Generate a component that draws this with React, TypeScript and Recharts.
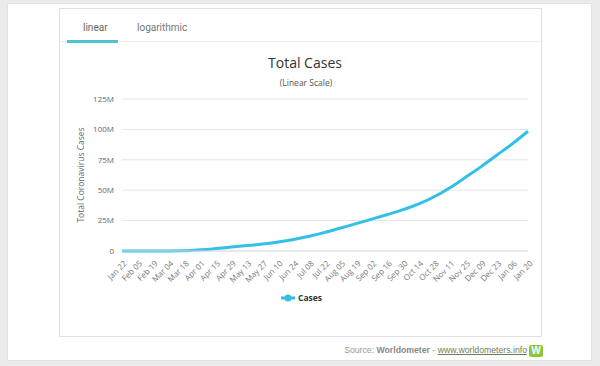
import React from 'react';
import { LineChart, Line, XAxis, YAxis, CartesianGrid } from 'recharts';

const dateLabels = [
  'Jan 22', 'Feb 05', 'Feb 19', 'Mar 04', 'Mar 18', 'Apr 01', 'Apr 15', 'Apr 29', 'May 13',
  'May 27', 'Jun 10', 'Jun 24', 'Jul 08', 'Jul 22', 'Aug 05', 'Aug 19', 'Sep 02', 'Sep 16',
  'Sep 30', 'Oct 14', 'Oct 28', 'Nov 11', 'Nov 25', 'Dec 09', 'Dec 23', 'Jan 06', 'Jan 20',
];

const caseValues = [
  580, 28276, 75204, 95124, 218000, 935000, 2000000, 3220000, 4430000,
  5800000, 7420000, 9500000, 12100000, 15300000, 18900000, 22500000, 26200000, 30000000,
  34000000, 38700000, 44600000, 52000000, 60600000, 69400000, 78800000, 88200000, 98500000,
];

const yTicks = [0, 25000000, 50000000, 75000000, 100000000, 125000000];

const data = dateLabels.map((d, i) => ({ date: d, cases: caseValues[i] }));

const LINE_COLOR = '#33bfe8';

const XTick = (props: any) => {
  const { x, y, payload } = props;
  return (
    <g transform={`translate(${x + 3},${y + 3})`}>
      <text x={0} y={0} dy={3} textAnchor="end" transform="rotate(-45)" fontSize={8} fill="#777"
        fontFamily="'Open Sans', sans-serif">
        {payload.value}
      </text>
    </g>
  );
};

export default function App() {
  return (
    <div style={{ position: 'fixed', left: 0, top: 0, width: 600, height: 366, background: '#ebebeb', overflow: 'hidden' }}>
      <div style={{ position: 'absolute', left: 7, top: 3, width: 585, height: 358, background: '#fff', border: '1px solid #e2e2e2', boxSizing: 'border-box' }} />
      <div style={{ position: 'absolute', left: 59, top: 8, width: 483, height: 329, background: '#fff', border: '1px solid #e0e0e0', boxSizing: 'border-box' }} />
      {/* tabs */}
      <div style={{ position: 'absolute', left: 60, top: 41, width: 481, height: 1, background: '#eeeeee' }} />
      <div style={{ position: 'absolute', left: 67, top: 40, width: 51, height: 3, background: '#4cc3d3' }} />
      <div style={{ position: 'absolute', left: 83, top: 22, fontFamily: 'Roboto, sans-serif', fontSize: 10, color: '#666' }}>linear</div>
      <div style={{ position: 'absolute', left: 137, top: 22, fontFamily: 'Roboto, sans-serif', fontSize: 10, color: '#777' }}>logarithmic</div>
      {/* titles */}
      <div style={{ position: 'absolute', left: 0, width: 610, top: 53, textAlign: 'center', fontFamily: "'Open Sans', sans-serif", fontSize: 14, color: '#333' }}>Total Cases</div>
      <div style={{ position: 'absolute', left: 0, width: 612, top: 77, textAlign: 'center', fontFamily: "'Open Sans', sans-serif", fontSize: 8.5, color: '#555' }}>(Linear Scale)</div>
      <div style={{ position: 'absolute', left: 0, top: 0 }}>
        <LineChart width={600} height={366} data={data} margin={{ top: 99, right: 72, bottom: 75, left: 62 }}>
          <CartesianGrid vertical={false} stroke="#e6e6e6" />
          <XAxis dataKey="date" interval={0} tick={<XTick />} tickLine={false} axisLine={{ stroke: '#dcdcdc' }} height={40} />
          <YAxis domain={[0, 125000000]} ticks={yTicks} width={60} tickLine={false} axisLine={false}
            tickFormatter={(v: number) => (v === 0 ? '0' : `${v / 1000000}M`)}
            tick={{ fontSize: 8, fill: '#666', fontFamily: "'Open Sans', sans-serif" }} />
          <Line type="monotone" dataKey="cases" stroke={LINE_COLOR} strokeWidth={3} dot={false} isAnimationActive={false} />
        </LineChart>
      </div>
      {/* y axis title */}
      <div style={{ position: 'absolute', left: 80, top: 175, width: 0, height: 0 }}>
        <div style={{ position: 'absolute', transform: 'translate(-50%, -50%) rotate(-90deg)', whiteSpace: 'nowrap', fontFamily: "'Open Sans', sans-serif", fontSize: 8.5, color: '#666' }}>Total Coronavirus Cases</div>
      </div>
      {/* legend */}
      <div style={{ position: 'absolute', left: 281, top: 292, display: 'flex', alignItems: 'center', fontFamily: "'Open Sans', sans-serif" }}>
        <svg width={14} height={10} style={{ display: 'block' }}>
          <line x1={0} y1={5} x2={14} y2={5} stroke={LINE_COLOR} strokeWidth={3} />
          <circle cx={7} cy={5} r={3.5} fill={LINE_COLOR} />
        </svg>
        <span style={{ marginLeft: 3, fontSize: 8.5, fontWeight: 700, color: '#333' }}>Cases</span>
      </div>
      {/* source */}
      <div style={{ position: 'absolute', right: 73, top: 345, fontFamily: "'Liberation Sans', Arial, sans-serif", fontSize: 8.7, color: '#999', whiteSpace: 'nowrap' }}>
        Source: <span style={{ fontWeight: 700, color: '#888' }}>Worldometer</span> - <span style={{ color: '#6b7f5a', textDecoration: 'underline' }}>www.worldometers.info</span>
      </div>
      <div style={{ position: 'absolute', left: 529, top: 345, width: 14, height: 12, background: '#8cc63e', borderRadius: 2, color: '#fff', fontFamily: "'Liberation Sans', Arial, sans-serif", fontSize: 10, fontWeight: 700, lineHeight: '12px', textAlign: 'center' }}>W</div>
    </div>
  );
}
